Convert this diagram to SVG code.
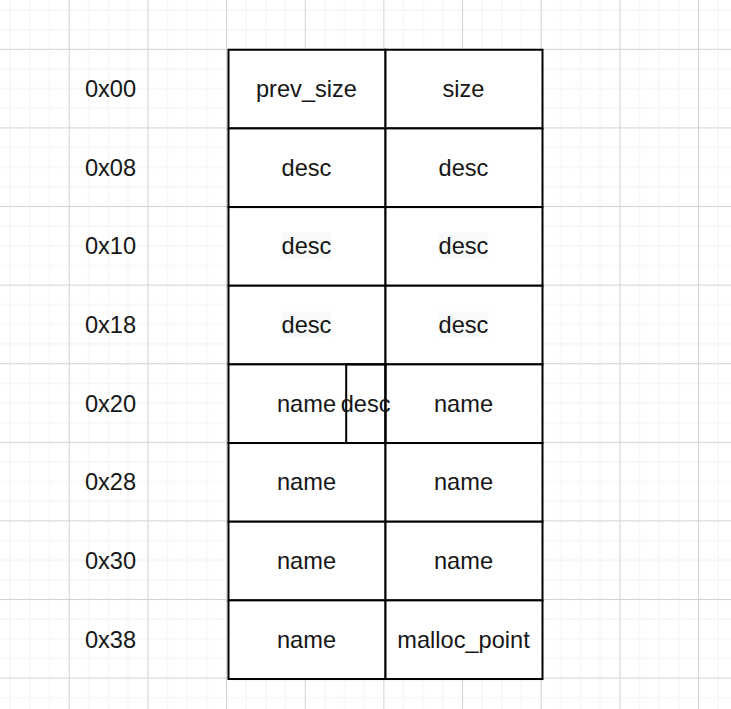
<svg xmlns="http://www.w3.org/2000/svg" width="731" height="709" viewBox="0 0 731 709">
<defs>
<pattern id="grid" patternUnits="userSpaceOnUse" x="-9.9" y="-29.8" width="78.66" height="78.6">
<rect x="0" y="0" width="78.66" height="78.6" fill="#ffffff"/>
<g fill="#f2f2f2">
<rect x="19.66" y="0" width="1" height="78.6"/>
<rect x="39.33" y="0" width="1" height="78.6"/>
<rect x="59" y="0" width="1" height="78.6"/>
<rect x="0" y="19.65" width="78.66" height="1"/>
<rect x="0" y="39.3" width="78.66" height="1"/>
<rect x="0" y="58.95" width="78.66" height="1"/>
</g>
<g fill="#d2d2d2">
<rect x="0" y="0" width="1" height="78.6"/>
<rect x="0" y="0" width="78.66" height="1"/>
</g>
</pattern>
<style>
.t{font-family:"Liberation Sans",Arial,sans-serif;font-size:23.6px;fill:#161616;text-anchor:middle}
.c{fill:#ffffff;stroke:#000000;stroke-width:2}
.o{fill:none;stroke:#000000;stroke-width:2}
.hl{fill:#f8f9fa}
</style>
</defs>
<rect x="0" y="0" width="731" height="709" fill="url(#grid)"/>
<g id="labels">
<text class="t" x="110.5" y="97">0x00</text>
<text class="t" x="110.5" y="175.7">0x08</text>
<text class="t" x="110.5" y="254.4">0x10</text>
<text class="t" x="110.5" y="333">0x18</text>
<text class="t" x="110.5" y="411.7">0x20</text>
<text class="t" x="110.5" y="490.4">0x28</text>
<text class="t" x="110.5" y="569">0x30</text>
<text class="t" x="110.5" y="647.7">0x38</text>
</g>
<g id="row00">
<rect class="c" x="228.5" y="49.75" width="157" height="78.66"/>
<text class="t" x="306.5" y="97">prev_size</text>
<rect class="c" x="385.5" y="49.75" width="157" height="78.66"/>
<text class="t" x="463.5" y="97">size</text>
</g>
<g id="row08">
<rect class="c" x="228.5" y="128.41" width="157" height="78.66"/>
<text class="t" x="306.5" y="175.7">desc</text>
<rect class="c" x="385.5" y="128.41" width="157" height="78.66"/>
<text class="t" x="463.5" y="175.7">desc</text>
</g>
<g id="row10">
<rect class="c" x="228.5" y="207.07" width="157" height="78.66"/>
<rect class="hl" x="281" y="232.7" width="50" height="26.3"/>
<text class="t" x="306.5" y="254.4">desc</text>
<rect class="c" x="385.5" y="207.07" width="157" height="78.66"/>
<rect class="hl" x="438.5" y="232.7" width="50" height="26.3"/>
<text class="t" x="463.5" y="254.4">desc</text>
</g>
<g id="row18">
<rect class="c" x="228.5" y="285.73" width="157" height="78.66"/>
<rect class="hl" x="281" y="311.7" width="50" height="26"/>
<text class="t" x="306.5" y="333">desc</text>
<rect class="c" x="385.5" y="285.73" width="157" height="78.66"/>
<rect class="hl" x="438.5" y="311.7" width="50" height="26"/>
<text class="t" x="463.5" y="333">desc</text>
</g>
<g id="row20">
<rect class="c" x="228.5" y="364.39" width="157" height="78.66"/>
<rect class="c" x="385.5" y="364.39" width="157" height="78.66"/>
<rect class="o" x="346.2" y="364.39" width="39.3" height="78.66"/>
<text class="t" x="306.5" y="411.7">name</text>
<text class="t" x="365.6" y="411.7">desc</text>
<text class="t" x="463.5" y="411.7">name</text>
</g>
<g id="row28">
<rect class="c" x="228.5" y="443.05" width="157" height="78.66"/>
<text class="t" x="306.5" y="490.4">name</text>
<rect class="c" x="385.5" y="443.05" width="157" height="78.66"/>
<text class="t" x="463.5" y="490.4">name</text>
</g>
<g id="row30">
<rect class="c" x="228.5" y="521.71" width="157" height="78.66"/>
<text class="t" x="306.5" y="569">name</text>
<rect class="c" x="385.5" y="521.71" width="157" height="78.66"/>
<text class="t" x="463.5" y="569">name</text>
</g>
<g id="row38">
<rect class="c" x="228.5" y="600.37" width="157" height="78.66"/>
<text class="t" x="306.5" y="647.7">name</text>
<rect class="c" x="385.5" y="600.37" width="157" height="78.66"/>
<text class="t" x="463.5" y="647.7">malloc_point</text>
</g>
<g id="connectors"/>
</svg>
